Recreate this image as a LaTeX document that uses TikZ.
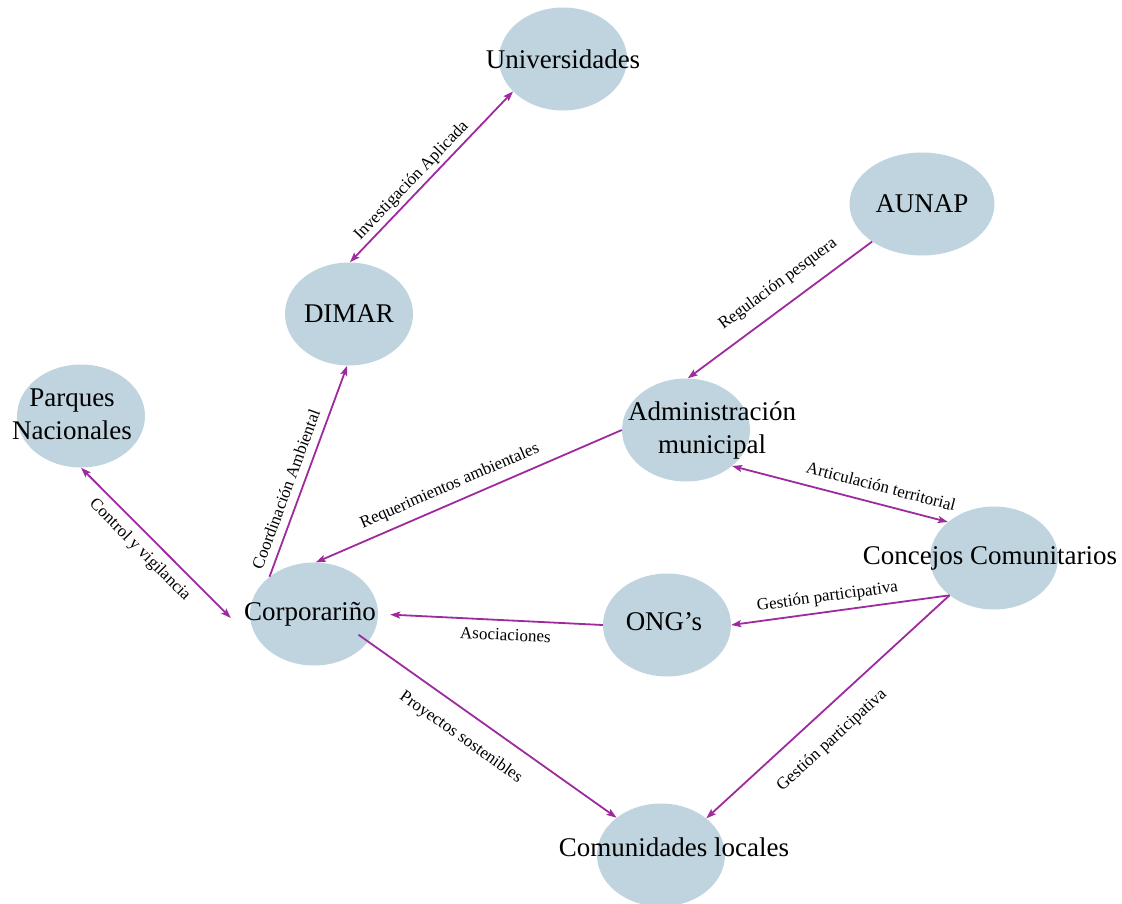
\documentclass[tikz,border=0pt]{standalone}
\usepackage{fontspec}
\setmainfont{Liberation Serif}
\usepackage{tikz}
\usetikzlibrary{shapes, arrows.meta, calc}
\definecolor{actorfill}{RGB}{191,212,222}
\definecolor{linkcol}{RGB}{158,42,158}
\tikzset{
  text offset/.initial=0pt,
  actor/.style = {ellipse, fill=actorfill, minimum width=128pt, minimum height=103pt, inner sep=0pt,
    font=\fontsize{27}{33}\selectfont,
    execute at begin node={\hbox to 0pt\bgroup\hss\kern\dimexpr\pgfkeysvalueof{/tikz/text offset}*2\relax},
    execute at end node={\hss\egroup}},
  tag/.style = {font=\fontsize{17}{20}\selectfont, sloped, inner sep=2pt}
}

\begin{document}
\begin{tikzpicture}[
    x=1pt, y=-1pt,
    >={Stealth[length=10pt, width=7pt, inset=2pt]},
    link/.style={->, draw=linkcol, line width=1.8pt},
    both/.style={<->, draw=linkcol, line width=1.8pt}
  ]
    \useasboundingbox (0,0) rectangle (1122,903);

    \node[actor] (univ) at (563,59) {Universidades};
    \node[actor, minimum width=145pt] (aunap) at (922,204) {AUNAP};
    \node[actor] (dimar) at (349,314) {DIMAR};
    \node[actor, text offset=-9pt] (parques) at (81,416) {\begin{tabular}{@{}c@{}}Parques\\Nacionales\end{tabular}};
    \node[actor, text offset=26pt] (admin) at (686,430) {\begin{tabular}{@{}c@{}}Administración\\municipal\end{tabular}};
    \node[actor, text offset=-4pt] (concejos) at (994,558) {Concejos Comunitarios};
    \node[actor, text offset=-4pt] (corpo) at (314,614) {Corporariño};
    \node[actor, text offset=-3pt] (ong) at (667,625) {ONG’s\rule[-6pt]{0pt}{1pt}};
    \node[actor, text offset=13pt] (comun) at (661,855) {Comunidades locales\rule[-15pt]{0pt}{1pt}};

    \coordinate (corpo-w) at ($(corpo.west) + (-19,4)$);

    \draw[both] (dimar.89) -- node[tag, above=1pt, pos=0.43] {Investigación Aplicada} (univ.213);
    \draw[link] (corpo.140) -- node[tag, above=6pt, pos=0.39] {Coordinación Ambiental} (dimar.268);
    \draw[both] (parques.270) -- node[tag, below=6pt, pos=0.47] {Control y vigilancia} (corpo-w);
    \draw[link] (admin.180) -- node[tag, above=6pt, pos=0.54] {Requerimientos ambientales} (corpo.88);
    \draw[link] (aunap.217) -- node[tag, above=11pt, pos=0.44] {Regulación pesquera} (admin.88);
    \draw[both] (admin.-38) -- node[tag, above=9pt, pos=0.67] {Articulación territorial} (concejos.142);
    \draw[link] (concejos.220) -- node[tag, above=4pt, pos=0.55] {Gestión participativa} (ong.0);
    \draw[link, shorten >=12pt] (ong.180) -- node[tag, below=6pt, pos=0.43] {Asociaciones} (corpo.0);
    \draw[link, shorten <=-12pt] (corpo.-27) -- node[tag, below=14pt, pos=0.43] {Proyectos sostenibles} (comun.140);
    \draw[link] (concejos.220) -- node[tag, below=17pt, pos=0.56] {Gestión participativa} (comun.39);

\end{tikzpicture}
\end{document}
